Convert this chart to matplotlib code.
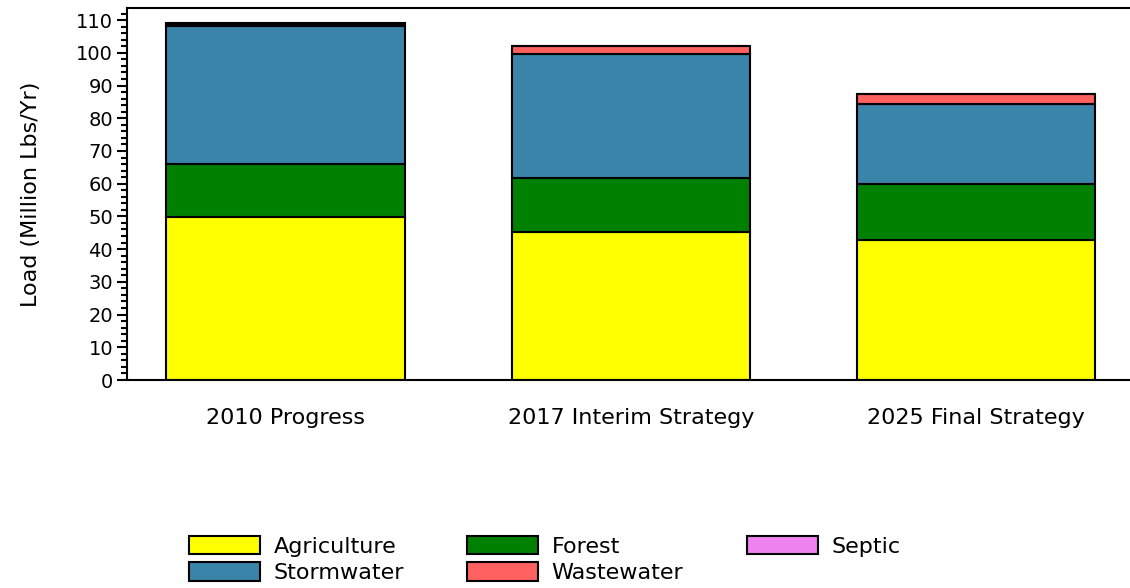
import matplotlib
matplotlib.use("Agg")
import matplotlib.pyplot as plt
import numpy as np
from matplotlib.ticker import MultipleLocator

categories = ["2010 Progress", "2017 Interim Strategy", "2025 Final Strategy"]
agriculture = [49.9, 45.3, 42.8]
forest = [16.0, 16.5, 17.1]
stormwater = [42.3, 37.8, 24.4]
wastewater = [0.6, 2.5, 3.1]
septic = [0.2, 0.1, 0.1]

series = [
    ("Agriculture", agriculture, "#FFFF00"),
    ("Forest", forest, "#008000"),
    ("Stormwater", stormwater, "#3A83A9"),
    ("Wastewater", wastewater, "#FF6161"),
    ("Septic", septic, "#EE82EE"),
]

plt.rcParams['font.family'] = ['DejaVu Sans']
fig = plt.figure(figsize=(11.3, 5.88), dpi=100)
ax = fig.add_axes([127/1130, 1 - 380/588, 1 - 127/1130, (380 - 8)/588])

x = np.arange(len(categories))
bottom = np.zeros(len(categories))
handles = {}
for name, vals, col in series:
    b = ax.bar(x, vals, width=0.69, bottom=bottom, color=col, edgecolor="black",
               linewidth=1.5, label=name)
    handles[name] = b
    bottom += np.array(vals)

ax.set_xlim(-0.459, 2.446)
ax.set_ylim(0, 113.7)
ax.yaxis.set_major_locator(MultipleLocator(10))
ax.yaxis.set_minor_locator(MultipleLocator(2))
ax.set_xticks(x)
ax.set_xticklabels(categories, fontsize=16)
ax.tick_params(axis='x', length=0, pad=20)
ax.tick_params(axis='y', which='major', length=7, width=1.5, labelsize=14, pad=3)
ax.tick_params(axis='y', which='minor', length=4, width=1.5)
ax.spines['right'].set_visible(False)
for s in ['left', 'top', 'bottom']:
    ax.spines[s].set_linewidth(1.5)
ax.set_ylabel("Load (Million Lbs/Yr)", fontsize=16, labelpad=25)

order = ["Agriculture", "Stormwater", "Forest", "Wastewater", "Septic"]
leg = fig.legend([handles[n] for n in order], order, ncol=3, loc="upper left",
                 bbox_to_anchor=(189/1130, 1 - 536/588), frameon=False, fontsize=16,
                 handlelength=3.2, handleheight=0.9, handletextpad=0.6,
                 columnspacing=2.85, labelspacing=0.25, borderpad=0, borderaxespad=0)

fig.savefig("out.png", dpi=100)
